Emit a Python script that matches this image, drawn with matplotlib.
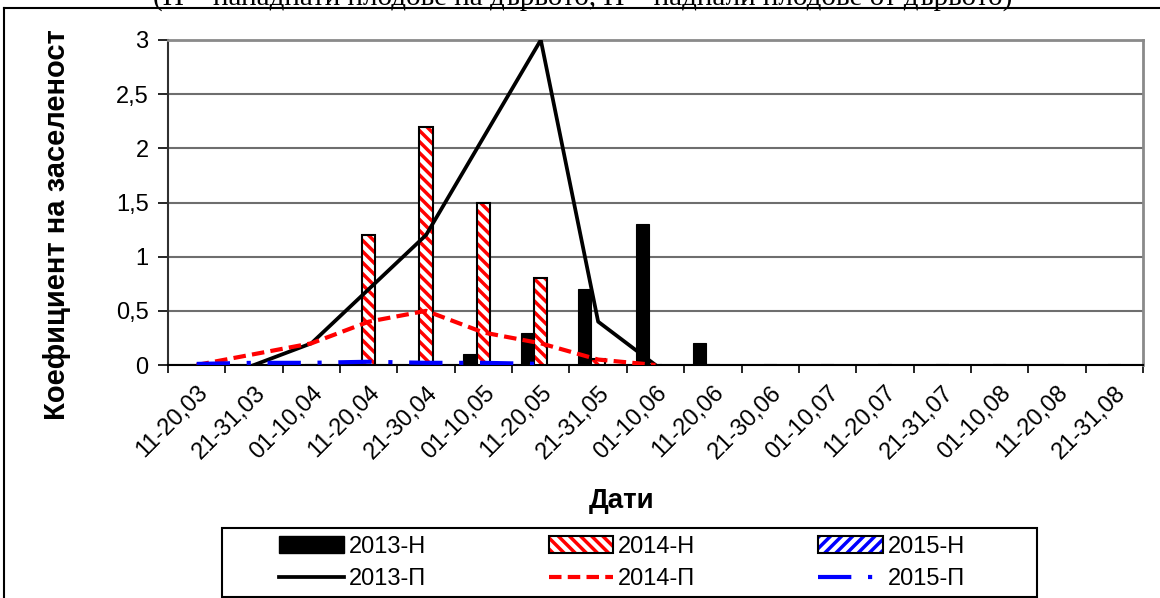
import numpy as np
import matplotlib
matplotlib.use('Agg')
import matplotlib.pyplot as plt
from matplotlib.patches import Patch, Rectangle
from matplotlib.lines import Line2D

plt.rcParams['font.family'] = ['Liberation Sans', 'DejaVu Sans']
plt.rcParams['hatch.linewidth'] = 2.5

# 10-day periods (day ranges, month)
periods = ['11-20,03', '21-31,03', '01-10,04', '11-20,04', '21-30,04', '01-10,05',
           '11-20,05', '21-31,05', '01-10,06', '11-20,06', '21-30,06', '01-10,07',
           '11-20,07', '21-31,07', '01-10,08', '11-20,08', '21-31,08']

# bars (Н)
h2013 = [0, 0, 0, 0, 0, 0.1, 0.3, 0.7, 1.3, 0.2, 0, 0, 0, 0, 0, 0, 0]
h2014 = [0, 0, 0, 1.2, 2.2, 1.5, 0.8, 0.06, 0, 0, 0, 0, 0, 0, 0, 0, 0]
h2015 = [0, 0, 0, 0, 0, 0, 0, 0, 0, 0, 0, 0, 0, 0, 0, 0, 0]

# lines (П), only the periods where the line is drawn
p2013_idx = [1, 2, 3, 4, 5, 6, 7, 8]
p2013 = [0, 0.2, 0.7, 1.2, 2.1, 3.0, 0.4, 0.0]
p2014_idx = [0, 1, 2, 3, 4, 5, 6, 7, 8]
p2014 = [0, 0.1, 0.2, 0.4, 0.5, 0.3, 0.2, 0.05, 0]
p2015_idx = [0, 1, 2, 3, 4, 5, 6]
p2015 = [0.01, 0.02, 0.02, 0.03, 0.02, 0.02, 0.01]

yticks = [0, 0.5, 1, 1.5, 2, 2.5, 3]
ytick_labels = ['0', '0,5', '1', '1,5', '2', '2,5', '3']

fig = plt.figure(figsize=(11.6, 5.98), dpi=100)
ax = fig.add_axes([168/1160, 1-365/598, 975/1160, 325/598])

x = np.arange(len(periods))
w = 0.232
ax.bar(x - w, h2013, w, color='black', edgecolor='black', linewidth=0.8, zorder=3)
ax.bar(x, h2014, w, color='white', edgecolor='red', hatch='\\\\\\', linewidth=0, zorder=3)
ax.bar(x, h2014, w, fill=False, edgecolor='black', linewidth=1.5, zorder=3)

ax.plot(p2013_idx, p2013, color='black', lw=2.7, zorder=4)
ax.plot(p2014_idx, p2014, color='red', lw=3, dashes=(3, 1.5), zorder=4)
ax.plot(p2015_idx, p2015, color='blue', lw=3, dashes=(8, 4, 1, 4), zorder=4)

ax.set_xlim(-0.5, len(periods) - 0.5)
ax.set_ylim(0, 3)
ax.set_yticks(yticks)
ax.set_yticklabels(ytick_labels, fontsize=17)
ax.set_xticks(x)
ax.set_xticklabels(periods, rotation=45, ha='right', rotation_mode='anchor', fontsize=17)
ax.set_xticks(np.arange(-0.5, len(periods)), minor=True)
ax.tick_params(axis='x', which='major', length=0, pad=12)
ax.tick_params(axis='x', which='minor', length=6, width=1.2, direction='out')
ax.tick_params(axis='y', length=7, width=1.2, pad=7)

ax.grid(axis='y', color='#6e6e6e', lw=1.5, zorder=0)
ax.set_axisbelow(True)
for s in ['top', 'right']:
    ax.spines[s].set_color('#8a8a8a')
    ax.spines[s].set_linewidth(2)
ax.spines['left'].set_color('#303030')
ax.spines['left'].set_linewidth(1.5)
ax.spines['bottom'].set_color('black')
ax.spines['bottom'].set_linewidth(1.5)

fig.text(57/1160, 1-225/598, 'Коефициент на заселеност', rotation=90,
         ha='center', va='center', fontsize=21, fontweight='bold')
fig.text(622/1160, 1-501/598, 'Дати', ha='center', va='center',
         fontsize=20, fontweight='bold')

# caption cut off at the top of the picture (as in the source page)
fig.text(583/1160, 1-5/598, '(Н – нападнати плодове на дървото, П – паднали плодове от дървото)',
         ha='center', va='baseline', fontsize=21, family='Liberation Serif')

# chart border
fig.add_artist(Line2D([4/1160, 1], [1-8/598, 1-8/598], color='black', lw=1.5))
fig.add_artist(Line2D([4/1160, 4/1160], [0, 1-8/598], color='black', lw=1.5))

# legend frame
fig.add_artist(Rectangle((222/1160, 1/598), 815/1160, 69/598,
                         transform=fig.transFigure, fill=False, edgecolor='black', lw=1.5))

handles = [
    Patch(facecolor='black', edgecolor='black'),
    Line2D([], [], color='black', lw=2.7),
    (Patch(facecolor='white', edgecolor='red', hatch='\\\\\\', linewidth=0),
     Patch(fill=False, edgecolor='black', linewidth=1.5)),
    Line2D([], [], color='red', lw=3, dashes=(3, 1.5)),
    (Patch(facecolor='white', edgecolor='blue', hatch='///', linewidth=0),
     Patch(fill=False, edgecolor='black', linewidth=1.5)),
    Line2D([], [], color='blue', lw=3, dashes=(8, 4, 1, 4)),
]
labels = ['2013-Н', '2013-П', '2014-Н', '2014-П', '2015-Н', '2015-П']
leg = fig.legend(handles, labels, ncol=3, loc='center',
                 bbox_to_anchor=(622/1160, 1-563/598),
                 fontsize=17, frameon=False,
                 handlelength=2.75, handleheight=0.7, handletextpad=0.2,
                 columnspacing=5.2, labelspacing=0.45, borderpad=0, borderaxespad=0)

fig.savefig('out.png', dpi=100)
